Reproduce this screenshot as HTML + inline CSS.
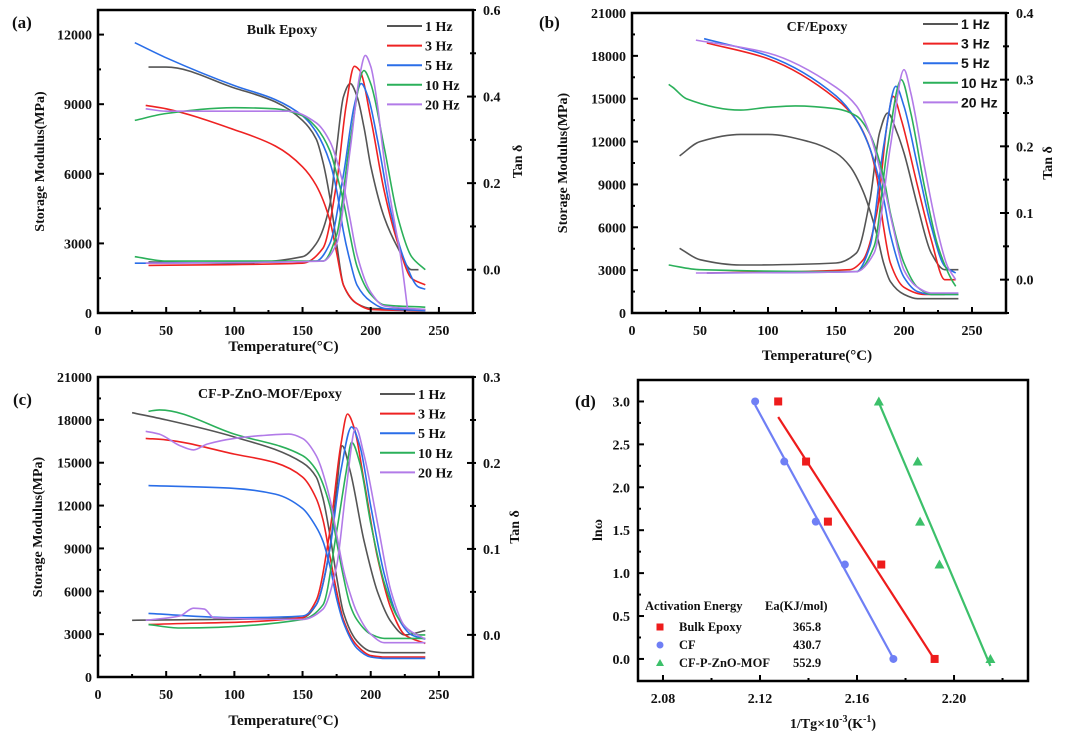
<!DOCTYPE html>
<html><head><meta charset="utf-8">
<style>
html,body{margin:0;padding:0;background:#fff;}
svg{display:block;font-family:"Liberation Serif",serif;font-weight:bold;}
</style></head>
<body>
<svg id="fig" width="1080" height="740" viewBox="0 0 1080 740" xmlns="http://www.w3.org/2000/svg"></svg>
<script>
// ---------- DATA ----------
const freqLabels = ["1 Hz","3 Hz","5 Hz","10 Hz","20 Hz"];
const freqColors = ["#555555","#ee2222","#2a6ee8","#2bb05a","#b27be8"];

// Panel (a) Bulk Epoxy: storage modulus [T, MPa]
const aMod1 = [[37,10600],[50,10600],[100,9700],[130,9100],[150,8300],[160,7500],[165,6500],[170,5000],[175,3000],[180,1200],[190,400],[200,200],[240,150]];
const aMod3 = [[35,8950],[50,8800],[100,7900],[130,7200],[150,6300],[160,5500],[170,4000],[175,2600],[180,1200],[190,400],[200,150],[240,100]];
const aMod5 = [[27,11650],[50,11000],[100,9800],[130,9200],[150,8500],[160,7800],[170,6500],[175,5300],[180,3500],[185,2200],[190,1200],[200,500],[210,200],[240,100]];
const aMod10 = [[27,8300],[50,8600],[100,8850],[130,8800],[150,8500],[160,8000],[170,7000],[175,6000],[180,4800],[185,3300],[190,2000],[200,800],[210,350],[240,250]];
const aMod20 = [[35,8800],[50,8700],[100,8700],[140,8700],[160,8200],[170,7400],[180,5500],[185,4000],[190,2500],[200,900],[210,300],[240,150]];
// tan delta
const aTan1 = [[37,0.018],[100,0.015],[150,0.03],[160,0.06],[170,0.15],[175,0.28],[180,0.4],[185,0.43],[190,0.40],[195,0.33],[200,0.24],[210,0.12],[220,0.05],[230,0.0],[235,0.0]];
const aTan3 = [[37,0.01],[150,0.015],[165,0.05],[175,0.2],[182,0.38],[188,0.47],[192,0.46],[200,0.35],[210,0.18],[220,0.06],[230,-0.02],[240,-0.035]];
const aTan5 = [[27,0.015],[160,0.02],[170,0.06],[180,0.22],[188,0.38],[193,0.43],[198,0.40],[205,0.3],[215,0.13],[225,0.02],[235,-0.04],[240,-0.045]];
const aTan10 = [[27,0.03],[50,0.02],[165,0.02],[175,0.08],[185,0.3],[195,0.46],[200,0.43],[210,0.28],[220,0.12],[230,0.03],[240,0.0]];
const aTan20 = [[35,0.015],[165,0.02],[175,0.06],[185,0.28],[192,0.45],[196,0.495],[200,0.47],[205,0.38],[210,0.25],[218,0.1],[222,0.03],[227,-0.09]];

// Panel (b) CF/Epoxy
const bMod1 = [[35,11000],[50,12000],[80,12500],[100,12500],[130,12000],[150,11200],[160,10300],[170,8500],[180,5500],[185,3500],[190,2200],[200,1300],[210,1000],[240,1000]];
const bMod3 = [[55,18900],[100,17800],[150,15000],[165,13500],[175,11500],[180,9500],[185,6000],[190,3500],[200,1800],[215,1300],[230,1300]];
const bMod5 = [[53,19200],[100,18000],[150,15200],[165,13500],[175,11500],[185,8000],[190,5500],[200,2500],[210,1500],[220,1300],[240,1300]];
const bMod10 = [[27,16000],[30,15800],[40,15000],[80,14200],[100,14400],[120,14500],[150,14300],[165,13800],[175,12500],[185,9500],[190,7000],[200,3500],[210,1800],[220,1300],[240,1300]];
const bMod20 = [[47,19100],[100,18200],[150,15800],[165,14500],[175,12500],[185,9000],[192,6000],[200,3000],[210,1800],[220,1400],[240,1400]];
const bTan1 = [[35,0.047],[50,0.03],[80,0.022],[150,0.025],[165,0.04],[175,0.12],[182,0.22],[188,0.25],[195,0.22],[200,0.19],[210,0.11],[220,0.04],[230,0.015],[240,0.015]];
const bTan3 = [[55,0.01],[160,0.015],[170,0.03],[180,0.1],[188,0.24],[192,0.275],[198,0.24],[210,0.14],[220,0.06],[230,0.0],[238,0.0]];
const bTan5 = [[55,0.01],[165,0.012],[175,0.05],[185,0.2],[194,0.29],[200,0.26],[210,0.17],[220,0.08],[230,0.02],[238,0.01]];
const bTan10 = [[27,0.022],[50,0.015],[165,0.012],[178,0.05],[188,0.2],[198,0.30],[205,0.25],[215,0.14],[225,0.05],[235,0.0],[238,-0.01]];
const bTan20 = [[47,0.01],[165,0.012],[178,0.04],[190,0.2],[200,0.315],[205,0.28],[215,0.17],[225,0.07],[232,0.02],[238,0.0]];

// Panel (c) CF-P-ZnO-MOF/Epoxy
const cMod1 = [[25,18500],[50,18000],[100,16800],[150,15000],[160,14000],[165,12500],[170,10000],[175,7000],[180,4500],[190,2500],[200,1800],[210,1700],[240,1700]];
const cMod3 = [[35,16700],[50,16600],[100,15600],[130,15000],[150,14000],[160,12500],[165,11000],[170,8500],[175,6000],[180,4000],[190,2200],[200,1500],[210,1400],[240,1400]];
const cMod5 = [[37,13400],[100,13200],[130,12800],[150,11800],[160,10500],[165,9500],[170,7800],[175,5500],[180,3800],[190,2000],[200,1400],[210,1300],[240,1300]];
const cMod10 = [[37,18600],[45,18700],[100,17000],[150,15500],[160,14500],[170,12000],[175,9500],[180,7000],[185,5000],[190,4000],[200,3000],[210,2700],[240,2700]];
const cMod20 = [[35,17200],[45,17000],[60,16200],[70,15900],[80,16300],[100,16700],[120,16900],[140,17000],[150,16700],[160,15500],[170,12500],[175,10000],[180,7500],[185,5800],[190,4500],[200,3000],[210,2400],[240,2400]];
const cTan1 = [[25,0.017],[150,0.02],[160,0.035],[170,0.1],[175,0.17],[179,0.22],[185,0.19],[195,0.11],[205,0.05],[215,0.015],[225,0.0],[240,0.005]];
const cTan3 = [[37,0.012],[150,0.02],[160,0.04],[170,0.12],[178,0.22],[183,0.257],[188,0.24],[195,0.18],[205,0.09],[215,0.03],[225,0.0],[240,-0.01]];
const cTan5 = [[37,0.025],[100,0.02],[150,0.022],[160,0.035],[170,0.1],[178,0.19],[186,0.242],[192,0.22],[200,0.15],[210,0.07],[220,0.02],[230,0.0],[240,-0.005]];
const cTan10 = [[37,0.012],[60,0.008],[150,0.018],[165,0.035],[175,0.12],[182,0.19],[186,0.224],[192,0.2],[200,0.13],[210,0.06],[220,0.02],[235,0.0],[240,0.0]];
const cTan20 = [[35,0.017],[60,0.022],[70,0.031],[78,0.03],[85,0.02],[150,0.018],[165,0.03],[175,0.08],[182,0.17],[189,0.241],[195,0.21],[205,0.13],[215,0.05],[225,0.01],[240,-0.005]];

// Panel (d) Arrhenius
const dSeriesNames = ["Bulk Epoxy","CF","CF-P-ZnO-MOF"];
const dEnergies = ["365.8","430.7","552.9"];
const dLnW = [3.0,2.3,1.6,1.1,0.0];
const dBulkX = [2.1275,2.139,2.148,2.170,2.192];
const dCFX = [2.118,2.130,2.143,2.155,2.175];
const dMOFX = [2.169,2.185,2.186,2.194,2.215];
const dColors = ["#ee1c1c","#6f7ff5","#3cc06a"];
const dXTicks = ["2.08","2.12","2.16","2.20"];
const dYTicks = ["0.0","0.5","1.0","1.5","2.0","2.5","3.0"];

// ---------- DRAWING ----------
const svg = document.getElementById('fig');
const NS = "http://www.w3.org/2000/svg";
function mk(tag, attrs, parent){
  const e = document.createElementNS(NS, tag);
  for (const k in attrs) e.setAttribute(k, attrs[k]);
  (parent||svg).appendChild(e);
  return e;
}
function txt(s, x, y, size, anchor, parent, extra){
  const t = mk('text', Object.assign({x:x, y:y, 'font-size':size, 'text-anchor':anchor||'middle', fill:'#111'}, extra||{}), parent);
  t.textContent = s;
  return t;
}
// monotone cubic (Fritsch-Carlson) path, x increasing
function smoothPath(pts){
  const n = pts.length;
  if (n<2) return '';
  const dx=[], m=[], t=new Array(n);
  for (let i=0;i<n-1;i++){ dx[i]=pts[i+1][0]-pts[i][0]; m[i]=(pts[i+1][1]-pts[i][1])/dx[i]; }
  t[0]=m[0]; t[n-1]=m[n-2];
  for (let i=1;i<n-1;i++){
    if (m[i-1]*m[i]<=0) t[i]=0;
    else { const w1=2*dx[i]+dx[i-1], w2=dx[i]+2*dx[i-1]; t[i]=(w1+w2)/(w1/m[i-1]+w2/m[i]); }
  }
  let d = 'M'+pts[0][0].toFixed(1)+','+pts[0][1].toFixed(1);
  for (let i=0;i<n-1;i++){
    const h=dx[i]/3;
    d+=' C'+(pts[i][0]+h).toFixed(1)+','+(pts[i][1]+t[i]*h).toFixed(1)+' '+(pts[i+1][0]-h).toFixed(1)+','+(pts[i+1][1]-t[i+1]*h).toFixed(1)+' '+pts[i+1][0].toFixed(1)+','+pts[i+1][1].toFixed(1);
  }
  return d;
}

function dmaPanel(cfg){
  const g = mk('g', {});
  
  
  const {L,T,R,B} = cfg;
  const xs = v => L + (v-0)/(275-0)*(R-L);
  const yl = v => B - (v-0)/(cfg.ymax-0)*(B-T);
  const yr = v => B - (v-cfg.rmin)/(cfg.rmax-cfg.rmin)*(B-T);
  for (let i=0;i<5;i++){
    const pm = mk('path', {d:smoothPath(cfg.mod[i].map(p=>[xs(p[0]),yl(p[1])])), fill:'none', stroke:freqColors[i], 'stroke-width':1.6}, g);
    
    
    const pt = mk('path', {d:smoothPath(cfg.tan[i].map(p=>[xs(p[0]),yr(p[1])])), fill:'none', stroke:freqColors[i], 'stroke-width':1.6}, g);
    
    
  }
  const fr = mk('rect', {x:L, y:T, width:R-L, height:B-T, fill:'none', stroke:'#000', 'stroke-width':2.5}, g);
  
  
  for (let v=0; v<=250; v+=25){
    const x = xs(v), major = v%50===0;
    mk('line', {x1:x, x2:x, y1:B, y2:B-(major?6:3), stroke:'#000', 'stroke-width':2}, g);
    if (major){
      const t = txt(String(v), x, B+22, 14, 'middle', g);
      
      
    }
  }
  for (let v=0; v<=cfg.ymax+1; v+=cfg.ystep/2){
    const y = yl(v), major = Math.abs(v%cfg.ystep)<1e-6;
    if (y<T-0.5) continue;
    mk('line', {x1:L, x2:L+(major?6:3), y1:y, y2:y, stroke:'#000', 'stroke-width':2}, g);
    if (major){
      const t = txt(String(v), L-6, y+5, 14, 'end', g);
      
      
    }
  }
  for (let k=Math.ceil(cfg.rmin/cfg.rstep*2-1e-9); k*cfg.rstep/2<=cfg.rmax+1e-9; k++){
    const v = k*cfg.rstep/2, y = yr(v), major = (k%2===0);
    mk('line', {x1:R, x2:R-(major?6:3), y1:y, y2:y, stroke:'#000', 'stroke-width':2}, g);
    mk('line', {x1:R, x2:R+3, y1:y, y2:y, stroke:'#000', 'stroke-width':2}, g);
    if (major){
      const t = txt(v.toFixed(1), R+10, y+5, 14, 'start', g);
      
      
    }
  }
  let t = txt(cfg.letter, cfg.letterX, cfg.letterY, 17, 'start', g);
  
  
  t = txt(cfg.title, cfg.titleX, cfg.titleY, 14, 'middle', g);
  
  
  t = txt('Storage Modulus(MPa)', 0, 0, 14, 'middle', g, {transform:'translate('+cfg.ylabX+','+(T+B)/2+') rotate(-90)'});
  
  
  t = txt('Tan δ', 0, 0, 14, 'middle', g, {transform:'translate('+cfg.rlabX+','+(T+B)/2+') rotate(-90)'});
  
  
  t = txt('Temperature(°C)', (L+R)/2-2, cfg.xlabY, 15, 'middle', g);
  
  
  for (let i=0;i<5;i++){
    const y = cfg.legY + i*19.6;
    const le = mk('g', {}, g);
    
    
    mk('line', {x1:cfg.legX, x2:cfg.legX+35, y1:y, y2:y, stroke:freqColors[i], 'stroke-width':2}, le);
    txt(freqLabels[i], cfg.legX+38, y+5, 14, 'start', le, cfg.legSans?{'font-family':'Liberation Sans, sans-serif'}:{});
  }
}

dmaPanel({name:'panel-a-bulk-epoxy', L:98, T:10, R:473, B:313, ymax:13060, ystep:3000, rmin:-0.1, rmax:0.6, rstep:0.2,
  mod:[aMod1,aMod3,aMod5,aMod10,aMod20], tan:[aTan1,aTan3,aTan5,aTan10,aTan20],
  letter:'(a)', letterX:12, letterY:28, title:'Bulk Epoxy', titleX:282, titleY:34, ylabX:44, rlabX:522, xlabY:351,
  legX:387, legY:26});
dmaPanel({name:'panel-b-cf-epoxy', L:632, T:13, R:1006, B:313, ymax:21000, ystep:3000, rmin:-0.05, rmax:0.4, rstep:0.1,
  mod:[bMod1,bMod3,bMod5,bMod10,bMod20], tan:[bTan1,bTan3,bTan5,bTan10,bTan20],
  letter:'(b)', letterX:539, letterY:28, title:'CF/Epoxy', titleX:817, titleY:31, ylabX:567, rlabX:1052, xlabY:360,
  legX:923, legY:24, legSans:true});
dmaPanel({name:'panel-c-cf-p-zno-mof-epoxy', L:98, T:377, R:473, B:677, ymax:21000, ystep:3000, rmin:-0.049, rmax:0.3, rstep:0.1,
  mod:[cMod1,cMod3,cMod5,cMod10,cMod20], tan:[cTan1,cTan3,cTan5,cTan10,cTan20],
  letter:'(c)', letterX:13, letterY:405, title:'CF-P-ZnO-MOF/Epoxy', titleX:270, titleY:398, ylabX:42, rlabX:519, xlabY:725,
  legX:380, legY:394});

// Panel (d)
(function(){
  const g = mk('g', {});
  
  
  const L=638, T=380, R=1028, B=681;
  const xmin=2.0697, xmax=2.2305, ymin=-0.257, ymax=3.25;
  const xs = v => L + (v-xmin)/(xmax-xmin)*(R-L);
  const ys = v => B - (v-ymin)/(ymax-ymin)*(B-T);
  const allX = [dBulkX, dCFX, dMOFX];
  for (let s=0;s<3;s++){
    const X = allX[s], n = X.length;
    let mx=0,my=0; for (let i=0;i<n;i++){mx+=X[i];my+=dLnW[i];} mx/=n; my/=n;
    let sxy=0,sxx=0; for (let i=0;i<n;i++){sxy+=(X[i]-mx)*(dLnW[i]-my); sxx+=(X[i]-mx)*(X[i]-mx);}
    const slope=sxy/sxx, icpt=my-slope*mx;
    const xa=Math.min(...X), xb=Math.max(...X);
    const fl = mk('line', {x1:xs(xa), y1:ys(slope*xa+icpt), x2:xs(xb), y2:ys(slope*xb+icpt), stroke:dColors[s], 'stroke-width':2.2}, g);
    
    
    for (let i=0;i<n;i++){
      const cx=xs(X[i]), cy=ys(dLnW[i]);
      let m;
      if (s===0) m = mk('rect', {x:cx-4, y:cy-4, width:8, height:8, fill:dColors[s]}, g);
      else if (s===1) m = mk('circle', {cx:cx, cy:cy, r:4, fill:dColors[s]}, g);
      else m = mk('polygon', {points:(cx)+','+(cy-5)+' '+(cx-5)+','+(cy+4)+' '+(cx+5)+','+(cy+4), fill:dColors[s]}, g);
      
      
    }
  }
  const fr = mk('rect', {x:L, y:T, width:R-L, height:B-T, fill:'none', stroke:'#000', 'stroke-width':2.5}, g);
  
  
  for (let k=0;k<dXTicks.length;k++){
    const v=parseFloat(dXTicks[k]);
    [v, v+0.02].forEach((u,j)=>{ if (xs(u)<R) mk('line',{x1:xs(u),x2:xs(u),y1:B,y2:B-(j?3:6),stroke:'#000','stroke-width':2},g); });
    const t = txt(dXTicks[k], xs(v), B+22, 14, 'middle', g);
    
    
  }
  for (let k=0;k<dYTicks.length;k++){
    const v=parseFloat(dYTicks[k]);
    mk('line',{x1:L,x2:L+6,y1:ys(v),y2:ys(v),stroke:'#000','stroke-width':2},g);
    mk('line',{x1:L,x2:L+3,y1:ys(v+0.25),y2:ys(v+0.25),stroke:'#000','stroke-width':2},g);
    const t = txt(dYTicks[k], L-8, ys(v)+5, 14, 'end', g);
    
    
  }
  let t = txt('(d)', 575, 407, 17, 'start', g);
  
  
  t = txt('lnω', 0, 0, 14, 'middle', g, {transform:'translate(602,530) rotate(-90)'});
  
  
  t = mk('text', {x:833, y:728, 'font-size':14, 'text-anchor':'middle', fill:'#111'}, g);
  t.innerHTML = '1/Tg×10<tspan dy="-6" font-size="10">-3</tspan><tspan dy="6">(K</tspan><tspan dy="-6" font-size="10">-1</tspan><tspan dy="6">)</tspan>';
  
  
  const lg = mk('g', {}, g);
  
  
  txt('Activation Energy', 645, 610, 12.5, 'start', lg);
  txt('Ea(KJ/mol)', 765, 610, 12.5, 'start', lg);
  for (let s=0;s<3;s++){
    const y = 627 + s*18;
    const cx = 660;
    if (s===0) mk('rect',{x:cx-3.5,y:y-3.5,width:7,height:7,fill:dColors[0]},lg);
    else if (s===1) mk('circle',{cx:cx,cy:y,r:3.5,fill:dColors[1]},lg);
    else mk('polygon',{points:cx+','+(y-4)+' '+(cx-4)+','+(y+3)+' '+(cx+4)+','+(y+3),fill:dColors[2]},lg);
    txt(dSeriesNames[s], 679, y+4, 12.5, 'start', lg);
    txt(dEnergies[s], 807, y+4, 12.5, 'middle', lg);
  }
})();
</script>
</body></html>
